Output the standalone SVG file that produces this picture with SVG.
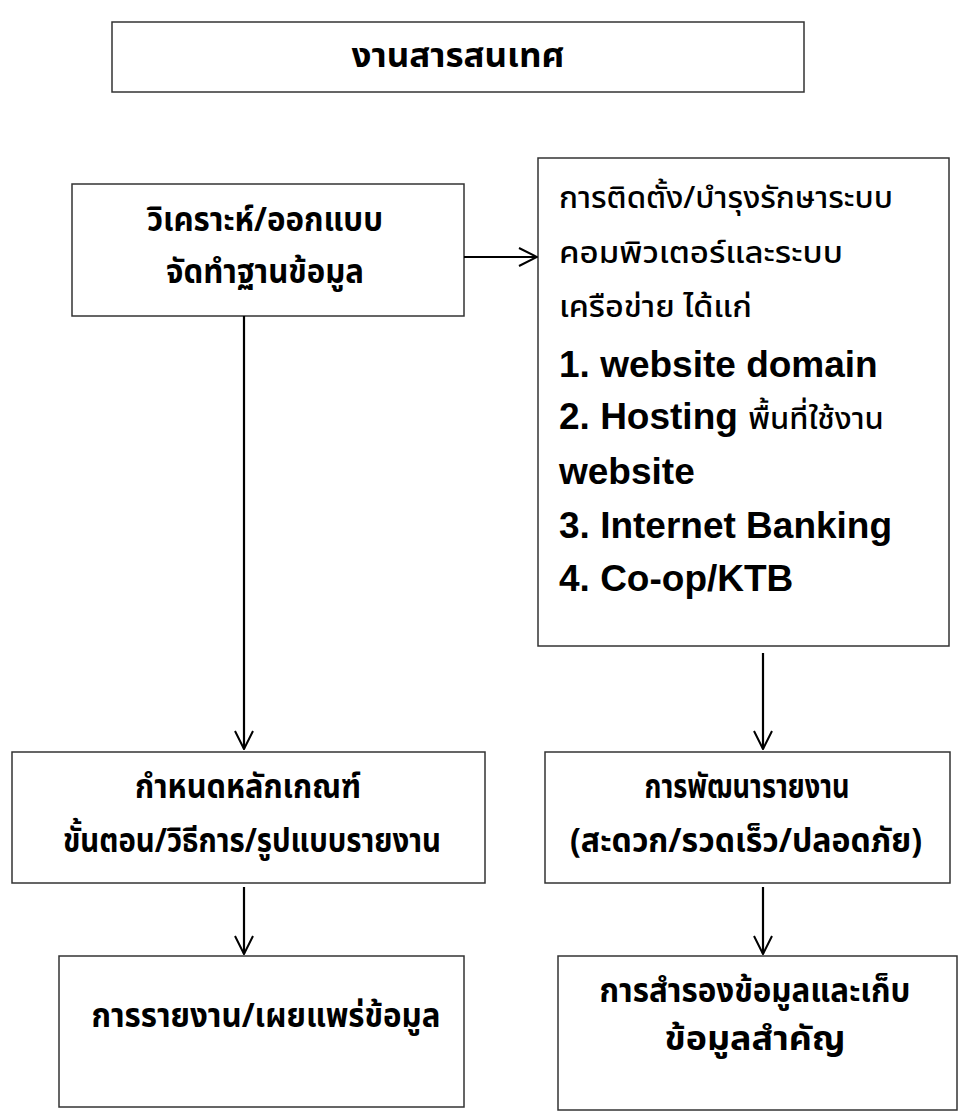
<svg xmlns="http://www.w3.org/2000/svg" width="961" height="1113" viewBox="0 0 961 1113">
<style>
  .box { fill: #ffffff; stroke: #333333; stroke-width: 1.5; }
  .conn { fill: none; stroke: #000000; stroke-width: 2.2; }
  .th { font-family: 'Noto Sans Thai', 'Noto Sans Thai UI', 'Noto Sans', 'DejaVu Sans', sans-serif; font-weight: bold; fill: #000; text-anchor: middle; font-size: 34px; }
  .thr { font-family: 'Noto Sans Thai', 'Noto Sans Thai UI', 'Noto Sans', 'DejaVu Sans', sans-serif; font-weight: 500; fill: #000; font-size: 31px; }
  .en { font-family: 'Liberation Sans', Arial, sans-serif; font-weight: bold; fill: #000; font-size: 37px; }
</style>
<defs>
  <marker id="arr" viewBox="0 0 20 20" refX="19" refY="10" markerWidth="20" markerHeight="20" markerUnits="userSpaceOnUse" orient="auto">
    <path d="M1,1 L19,10 L1,19" fill="none" stroke="#000" stroke-width="2"/>
  </marker>
</defs>
<rect width="961" height="1113" fill="#ffffff"/>

<g id="title">
  <rect class="box" x="112" y="22" width="692" height="70"/>
  <text class="th" x="458" y="67" font-size="31" textLength="213" lengthAdjust="spacingAndGlyphs">งานสารสนเทศ</text>
</g>

<g id="analyze">
  <rect class="box" x="72" y="184" width="392" height="132"/>
  <text class="th" x="265" y="231" textLength="236" lengthAdjust="spacingAndGlyphs">วิเคราะห์/ออกแบบ</text>
  <text class="th" x="265" y="283" textLength="198" lengthAdjust="spacingAndGlyphs">จัดทำฐานข้อมูล</text>
</g>

<g id="install">
  <rect class="box" x="538" y="158" width="411" height="488"/>
  <text class="thr" x="559" y="208" textLength="334" lengthAdjust="spacingAndGlyphs">การติดตั้ง/บำรุงรักษาระบบ</text>
  <text class="thr" x="559" y="263" textLength="284" lengthAdjust="spacingAndGlyphs">คอมพิวเตอร์และระบบ</text>
  <text class="thr" x="559" y="317" textLength="193" lengthAdjust="spacingAndGlyphs">เครือข่าย ได้แก่</text>
  <text class="en" x="559" y="377">1. website domain</text>
  <text class="en" x="559" y="429">2. Hosting <tspan class="thr">พื้นที่ใช้งาน</tspan></text>
  <text class="en" x="559" y="484">website</text>
  <text class="en" x="559" y="538">3. Internet Banking</text>
  <text class="en" x="559" y="591">4. Co-op/KTB</text>
</g>

<g id="criteria">
  <rect class="box" x="12" y="752" width="473" height="131"/>
  <text class="th" x="248" y="798" textLength="226" lengthAdjust="spacingAndGlyphs">กำหนดหลักเกณฑ์</text>
  <text class="th" x="252" y="852" textLength="378" lengthAdjust="spacingAndGlyphs">ขั้นตอน/วิธีการ/รูปแบบรายงาน</text>
</g>

<g id="develop">
  <rect class="box" x="545" y="752" width="405" height="131"/>
  <text class="th" x="747" y="798" textLength="205" lengthAdjust="spacingAndGlyphs">การพัฒนารายงาน</text>
  <text class="th" x="746" y="852" textLength="352" lengthAdjust="spacingAndGlyphs">(สะดวก/รวดเร็ว/ปลอดภัย)</text>
</g>

<g id="report">
  <rect class="box" x="59" y="956" width="405" height="151"/>
  <text class="th" x="266" y="1027" textLength="349" lengthAdjust="spacingAndGlyphs">การรายงาน/เผยแพร่ข้อมูล</text>
</g>

<g id="backup">
  <rect class="box" x="558" y="956" width="399" height="154"/>
  <text class="th" x="755" y="1002" textLength="311" lengthAdjust="spacingAndGlyphs">การสำรองข้อมูลและเก็บ</text>
  <text class="th" x="755" y="1050" textLength="181" lengthAdjust="spacingAndGlyphs">ข้อมูลสำคัญ</text>
</g>

<g id="connectors">
  <line class="conn" x1="464" y1="257" x2="537" y2="257" marker-end="url(#arr)"/>
  <line class="conn" x1="244" y1="316" x2="244" y2="749" marker-end="url(#arr)"/>
  <line class="conn" x1="763" y1="653" x2="763" y2="749" marker-end="url(#arr)"/>
  <line class="conn" x1="244" y1="887" x2="244" y2="954" marker-end="url(#arr)"/>
  <line class="conn" x1="763" y1="887" x2="763" y2="954" marker-end="url(#arr)"/>
</g>
</svg>
